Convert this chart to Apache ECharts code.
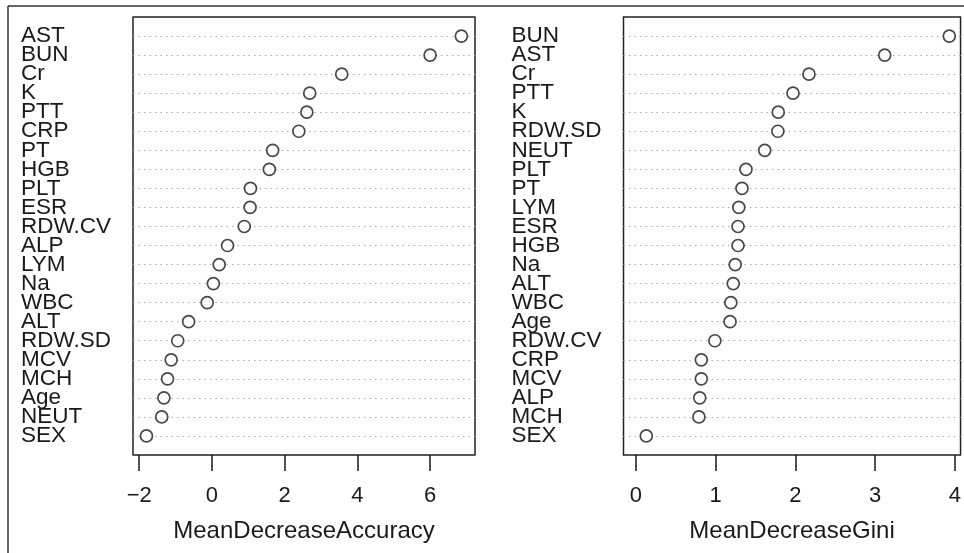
<!DOCTYPE html>
<html><head><meta charset="utf-8">
<script src="https://cdn.jsdelivr.net/npm/echarts@6/dist/echarts.min.js"></script>
<style>html,body{margin:0;padding:0;background:#fff}#c{width:964px;height:553px}</style>
</head><body><div id="c"></div>
<script>
// Left panel: MeanDecreaseAccuracy (top to bottom)
const accNames = ['AST','BUN','Cr','K','PTT','CRP','PT','HGB','PLT','ESR','RDW.CV','ALP','LYM','Na','WBC','ALT','RDW.SD','MCV','MCH','Age','NEUT','SEX'];
const accValues = [6.86,6.0,3.57,2.69,2.61,2.39,1.67,1.58,1.06,1.05,0.89,0.43,0.20,0.04,-0.13,-0.64,-0.94,-1.12,-1.22,-1.32,-1.38,-1.80];
// Right panel: MeanDecreaseGini (top to bottom)
const giniNames = ['BUN','AST','Cr','PTT','K','RDW.SD','NEUT','PLT','PT','LYM','ESR','HGB','Na','ALT','WBC','Age','RDW.CV','CRP','MCV','ALP','MCH','SEX'];
const giniValues = [3.93,3.12,2.17,1.97,1.785,1.78,1.615,1.38,1.33,1.29,1.28,1.28,1.245,1.22,1.19,1.18,0.99,0.82,0.82,0.80,0.79,0.13];
const accTicks = [-2,0,2,4,6];
const giniTicks = [0,1,2,3,4];
const accTitle = 'MeanDecreaseAccuracy';
const giniTitle = 'MeanDecreaseGini';

const FONT = "'Liberation Sans', Arial, sans-serif";
const INK = '#1a1a1a';

function padCats(names){
  // bottom-to-top order with empty padding slots at both ends
  return [' '].concat(names.slice().reverse()).concat(['  ']);
}
function seriesData(names, values){
  const n = names.length;
  return values.map((v,i)=>[v, n - i]);
}
function fmtTick(v){ return v < 0 ? '\u2212' + Math.abs(v) : String(v); }

function yAxisFor(idx, names){
  return {
    type:'category', gridIndex:idx, data:padCats(names), boundaryGap:false,
    axisLine:{show:false}, axisTick:{show:false},
    axisLabel:{
      interval:0, hideOverlap:false, align:'left', margin:112,
      formatter:(v)=>v.trim(),
      fontFamily:FONT, fontSize:22.5, color:INK
    },
    splitLine:{show:true, interval:(i,v)=>v.trim()!=='',
      lineStyle:{color:'#aaaaaa', width:1, type:[1.5,4]}}
  };
}
function xAxisFor(idx, min, max, ticks, title){
  return {
    type:'value', gridIndex:idx, min:min, max:max,
    axisLine:{show:false},
    axisTick:{show:true, length:16, inside:false, customValues:ticks,
      lineStyle:{color:INK, width:1.5}},
    axisLabel:{customValues:ticks, formatter:fmtTick, margin:30,
      fontFamily:FONT, fontSize:22, color:INK},
    splitLine:{show:false},
    name:title, nameLocation:'middle', nameGap:64,
    nameTextStyle:{fontFamily:FONT, fontSize:24, color:INK}
  };
}
function dotSeries(idx, names, values){
  return {
    type:'scatter', xAxisIndex:idx, yAxisIndex:idx,
    data:seriesData(names, values), symbol:'circle', symbolSize:12,
    itemStyle:{color:'#ffffff', borderColor:INK, borderWidth:1.7},
    emphasis:{disabled:true}, z:5
  };
}

const chart = echarts.init(document.getElementById('c'), null, {renderer:'canvas'});
chart.setOption({
  animation:false,
  backgroundColor:'#ffffff',
  grid:[
    {left:133, top:17, width:342, height:438, show:true, borderColor:'#222', borderWidth:1.5, backgroundColor:'transparent', containLabel:false},
    {left:623.5, top:17, width:339.5, height:438, show:true, borderColor:'#222', borderWidth:1.5, backgroundColor:'transparent', containLabel:false}
  ],
  xAxis:[
    xAxisFor(0, -2.17, 7.235, accTicks, accTitle),
    xAxisFor(1, -0.156, 4.071, giniTicks, giniTitle)
  ],
  yAxis:[ yAxisFor(0, accNames), yAxisFor(1, giniNames) ],
  series:[ dotSeries(0, accNames, accValues), dotSeries(1, giniNames, giniValues) ],
  graphic:[
    {type:'line', shape:{x1:8, y1:6, x2:964, y2:6}, style:{stroke:'#333', lineWidth:1.5}, silent:true},
    {type:'line', shape:{x1:8, y1:6, x2:8, y2:553}, style:{stroke:'#333', lineWidth:1.5}, silent:true}
  ]
});
</script></body></html>
